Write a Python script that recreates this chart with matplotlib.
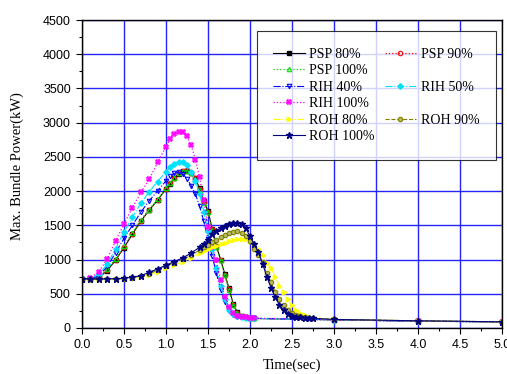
import matplotlib
matplotlib.use("Agg")
import matplotlib.pyplot as plt
from matplotlib.ticker import MultipleLocator
from matplotlib.lines import Line2D

# time grids (fast = PSP / RIH cases, slow = ROH cases)
t_fast = [0.0, 0.1, 0.2, 0.3, 0.4, 0.5, 0.6, 0.7, 0.8, 0.9, 1.0,
          1.05, 1.1, 1.15, 1.2, 1.25, 1.3, 1.35, 1.4, 1.45, 1.5,
          1.55, 1.6, 1.65, 1.7, 1.75, 1.8, 1.85, 1.9, 1.95, 2.0, 2.05,
          3.0, 4.0, 5.0]
t_slow = [0.0, 0.1, 0.2, 0.3, 0.4, 0.5, 0.6, 0.7, 0.8, 0.9, 1.0,
          1.1, 1.2, 1.3, 1.4, 1.45, 1.5, 1.55, 1.6, 1.65, 1.7, 1.75,
          1.8, 1.85, 1.9, 1.95, 2.0, 2.05, 2.1, 2.15, 2.2, 2.25, 2.3,
          2.35, 2.4, 2.45, 2.5, 2.55, 2.6, 2.65, 2.7, 2.75,
          3.0, 4.0, 5.0]

psp80 = [720, 720, 735, 840, 990, 1175, 1370, 1560, 1720, 1870, 2030,
         2110, 2185, 2255, 2295, 2300, 2265, 2190, 2040, 1860, 1710,
         1450, 1200, 1000, 790, 580, 350, 230, 180, 160, 150, 140,
         120, 100, 90]
psp90 = [720, 720, 738, 848, 998, 1185, 1380, 1568, 1725, 1875, 2035,
         2115, 2190, 2258, 2298, 2302, 2262, 2185, 2030, 1845, 1700,
         1440, 1190, 995, 780, 570, 340, 225, 178, 158, 148, 140,
         120, 100, 90]
psp100 = [720, 720, 740, 860, 1010, 1200, 1395, 1580, 1730, 1880, 2040,
          2120, 2190, 2260, 2300, 2300, 2260, 2180, 2020, 1830, 1700,
          1430, 1180, 990, 770, 560, 330, 220, 180, 160, 150, 140,
          120, 100, 90]
rih40 = [710, 720, 760, 900, 1100, 1310, 1500, 1690, 1860, 2000, 2150,
         2220, 2260, 2280, 2250, 2180, 2080, 1960, 1780, 1560, 1300,
         1050, 800, 560, 380, 250, 190, 165, 155, 150, 145, 140,
         120, 100, 90]
rih50 = [700, 720, 790, 930, 1160, 1400, 1620, 1820, 1990, 2140, 2280,
         2350, 2400, 2430, 2425, 2380, 2280, 2150, 1960, 1700, 1420,
         1150, 880, 620, 420, 270, 200, 170, 155, 150, 145, 140,
         120, 100, 90]
rih100 = [700, 730, 820, 1010, 1270, 1520, 1760, 1980, 2170, 2420, 2650,
          2760, 2840, 2870, 2870, 2800, 2670, 2460, 2200, 1870, 1480,
          1180, 990, 700, 450, 300, 220, 180, 165, 155, 150, 145,
          120, 100, 90]
roh80 = [700, 705, 708, 710, 712, 715, 725, 745, 780, 825, 870,
         920, 970, 1030, 1090, 1120, 1150, 1180, 1205, 1225, 1240, 1265,
         1285, 1298, 1302, 1298, 1270, 1220, 1160, 1070, 950, 880, 750,
         620, 530, 420, 330, 270, 220, 190, 165, 150,
         125, 105, 90]
roh90 = [715, 715, 716, 717, 718, 722, 735, 758, 795, 845, 900,
         955, 1005, 1060, 1140, 1180, 1215, 1250, 1290, 1325, 1360, 1390,
         1408, 1410, 1395, 1340, 1270, 1160, 1070, 960, 800, 670, 530,
         420, 340, 270, 220, 190, 170, 158, 150, 145,
         125, 105, 90]
roh100 = [715, 716, 716, 718, 720, 727, 741, 765, 814, 862, 918,
          970, 1025, 1095, 1180, 1230, 1290, 1375, 1420, 1460, 1495, 1525,
          1540, 1540, 1515, 1460, 1340, 1230, 1110, 940, 750, 590, 450,
          340, 260, 210, 180, 165, 155, 148, 143, 140,
          125, 105, 90]

fig = plt.figure(figsize=(5.07, 3.74), dpi=100)
ax = fig.add_axes([0.1617, 0.123, 0.8283, 0.8235])

# grid first so curves sit on top
ax.set_axisbelow(True)
ax.grid(True, which='major', color='#2424ff', lw=1.0)

ms = 3.2
h = {}
h['psp80'], = ax.plot(t_fast, psp80, '-', color='black', lw=0.8, marker='s', ms=2.5, mfc='black')
h['psp90'], = ax.plot(t_fast, psp90, ':', color='red', lw=0.9, marker='o', ms=ms, mfc='none', mew=0.8)
h['psp100'], = ax.plot(t_fast, psp100, ':', color='#00e000', lw=0.9, marker='^', ms=ms, mfc='none', mew=0.8)
h['rih40'], = ax.plot(t_fast, rih40, '-.', color='blue', lw=0.8, marker='v', ms=ms, mfc='none', mew=0.8)
h['rih50'], = ax.plot(t_fast, rih50, '-.', color='#00e0ff', lw=0.8, marker='D', ms=ms - 0.4, mfc='#00e0ff')
h['rih100'], = ax.plot(t_fast, rih100, ':', color='magenta', lw=0.9, marker='X', ms=ms + 0.8, mfc='magenta', mew=0.3)
h['roh80'], = ax.plot(t_slow, roh80, '-.', color='yellow', lw=0.8, marker='>', ms=ms, mfc='yellow')
h['roh90'], = ax.plot(t_slow, roh90, '--', color='#808000', lw=0.8, marker='o', ms=ms, mfc='#b8b860', mew=0.8)
h['roh100'], = ax.plot(t_slow, roh100, '-', color='#000080', lw=0.8, marker='*', ms=ms + 1.5, mfc='#000080')

ax.set_xlim(0, 5.0)
ax.set_ylim(0, 4500)
ax.xaxis.set_major_locator(MultipleLocator(0.5))
ax.xaxis.set_minor_locator(MultipleLocator(0.25))
ax.yaxis.set_major_locator(MultipleLocator(500))
ax.yaxis.set_minor_locator(MultipleLocator(250))
ax.set_xticklabels([f'{v:.1f}' for v in ax.get_xticks()])
ax.tick_params(which='major', direction='out', length=4, width=0.8, labelsize=9, pad=4)
ax.tick_params(which='minor', direction='out', length=2.5, width=0.8)
for lab in ax.get_xticklabels() + ax.get_yticklabels():
    lab.set_fontfamily('Liberation Sans')
for s in ax.spines.values():
    s.set_linewidth(1.0)

ax.set_xlabel('Time(sec)', family='Liberation Serif', fontsize=10.5, labelpad=5)
ax.set_ylabel('Max. Bundle Power(kW)', family='Liberation Serif', fontsize=10.5)
ax.yaxis.set_label_coords(-0.138, 0.526)

blank = Line2D([], [], alpha=0)
handles = [h['psp80'], h['psp100'], h['rih40'], h['rih100'], h['roh80'], h['roh100'],
           h['psp90'], blank, h['rih50'], blank, h['roh90'], blank]
labels = ['PSP 80%', 'PSP 100%', 'RIH 40%', 'RIH 100%', 'ROH 80%', 'ROH 100%',
          'PSP 90%', '', 'RIH 50%', '', 'ROH 90%', '']
leg = ax.legend(handles, labels, ncol=2, loc='upper right', bbox_to_anchor=(0.9857, 0.9643),
                prop={'family': 'Liberation Serif', 'size': 10}, frameon=True, fancybox=False,
                edgecolor='black', handlelength=2.3, handletextpad=0.3, columnspacing=0.7,
                labelspacing=0.25, borderpad=1.2, borderaxespad=0, numpoints=1)
leg.get_frame().set_linewidth(0.8)

fig.savefig('out.png', dpi=100)
